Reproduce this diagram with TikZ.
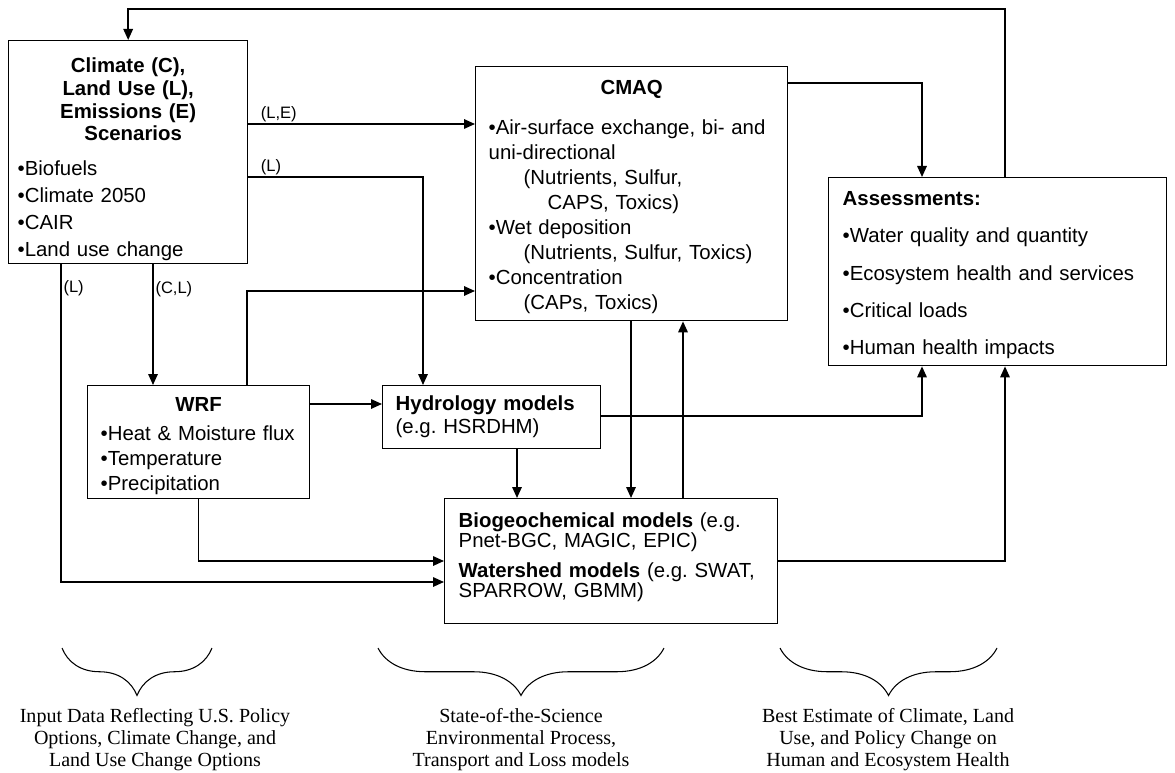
\documentclass[tikz,border=0pt]{standalone}
\usepackage{fontspec}
\setmainfont{Liberation Sans}
\newfontfamily\capfont{Liberation Serif}
\usetikzlibrary{arrows.meta,decorations.pathreplacing}
\frenchspacing

\begin{document}
\begin{tikzpicture}[x=0.02cm,y=-0.02cm,
    box/.style={draw,line width=0.8pt,anchor=north west,align=left,inner ysep=0pt},
    arr/.style={line width=0.9pt,-{Triangle[length=0.22cm,width=0.19cm]}},
    lab/.style={font=\fontsize{9.4}{11}\selectfont,inner sep=1pt},
    captext/.style={align=center,font=\capfont\fontsize{11.4}{12.5}\selectfont},
    curly/.style={decorate,decoration={brace,amplitude=0.95cm},line width=0.6pt}]
\useasboundingbox (0,0) rectangle (1175,773);

% models and scenarios
\node[box,inner xsep=0.18cm,text width=4.42cm,minimum height=4.46cm,
      font=\fontsize{11.6}{15.4}\selectfont] (scen) at (8,40)
  {{\centering\bfseries\fontsize{11.6}{12.9}\selectfont \rule{0pt}{16.5pt}Climate (C),\\ Land Use (L),\\
    Emissions (E)\\ \hspace*{0.2cm}Scenarios\par}\vspace{4pt}
   •Biofuels\\ •Climate 2050\\ •CAIR\\ •Land use change};
\node[box,inner xsep=0.26cm,text width=5.72cm,minimum height=5.08cm,
      font=\fontsize{11.6}{14.2}\selectfont] (cmaq) at (475,66)
  {{\centering\bfseries \rule{0pt}{11.8pt}CMAQ\par}\vspace{8.6pt}
   \mbox{•Air-surface exchange, bi- and}\\ uni-directional\\
   \hspace*{0.7cm}(Nutrients, Sulfur,\\ \hspace*{1.18cm}CAPS, Toxics)\\
   •Wet deposition\\ \hspace*{0.7cm}(Nutrients, Sulfur, Toxics)\\
   •Concentration\\ \hspace*{0.7cm}(CAPs, Toxics)};
\node[box,inner xsep=0.28cm,text width=6.2cm,minimum height=3.76cm,
      font=\fontsize{11.6}{21.1}\selectfont] (assess) at (828,177)
  {\rule{0pt}{11.9pt}\textbf{Assessments:}\\ •Water quality and quantity\\ •Ecosystem health and services\\
   •Critical loads\\ •Human health impacts};
\node[box,inner xsep=0.26cm,text width=3.92cm,minimum height=2.26cm,
      font=\fontsize{11.6}{14.2}\selectfont] (wrf) at (87,385)
  {{\centering\bfseries \rule{0pt}{12.3pt}WRF\par}\vspace{2.3pt}
   \mbox{•Heat \& Moisture flux}\\ •Temperature\\ •Precipitation};
\node[box,inner xsep=0.26cm,text width=3.84cm,minimum height=1.26cm,
      font=\fontsize{11.6}{13.1}\selectfont] (hydro) at (382,385)
  {\textbf{Hydrology models}\\ (e.g. HSRDHM)};
\node[box,inner xsep=0.28cm,text width=6.1cm,minimum height=2.5cm,
      font=\fontsize{11.6}{11.4}\selectfont] (bio) at (444,498)
  {\textbf{Biogeochemical models} (e.g.\\ Pnet-BGC, MAGIC, EPIC)\\[5.7pt]
   \mbox{\textbf{Watershed models} (e.g. SWAT,}\\ SPARROW, GBMM)\rule[-7pt]{0pt}{7pt}};

% connectors
\draw[arr] (cmaq.east |- 0,83) -| (922,0 |- assess.north);
\draw[arr] (1005,0 |- assess.north) -- (1005,9) -| (scen.north);
\draw[arr] (scen.east |- 0,124) -- (cmaq.west |- 0,124)
  node[lab,pos=0,above right,xshift=0.2cm] {(L,E)};
\draw[arr] (scen.east |- 0,177) -| (423,0 |- hydro.north)
  node[lab,pos=0,above right,xshift=0.2cm] {(L)};
\draw[arr] (153,0 |- scen.south) -- node[lab,right,pos=0.21] {(C,L)} (153,0 |- wrf.north);
\draw[arr] (61,0 |- scen.south) -- (61,582) node[lab,right,pos=0.075] {(L)}
  -- (bio.west |- 0,582);
\draw[arr] (247,0 |- wrf.north) |- (cmaq.west |- 0,291);
\draw[arr] (wrf.east |- 0,404) -- (hydro.west |- 0,404);
\draw[arr] (wrf.south) |- (bio.west |- 0,561);
\draw[arr] (517,0 |- hydro.south) -- (517,0 |- bio.north);
\draw[arr] (631,0 |- cmaq.south) -- (631,0 |- bio.north);
\draw[arr] (683,0 |- bio.north) -- (683,0 |- cmaq.south);
\draw[arr] (hydro.east |- 0,416) -| (922,0 |- assess.south);
\draw[arr] (bio.east |- 0,561) -| (1005,0 |- assess.south);

% braces and captions
\draw[curly] (212,648) -- (62,648);
\draw[curly] (664,648) -- (378,648);
\draw[curly] (997,648) -- (780,648);
\node[captext] (capin) at (155,740)
  {Input Data Reflecting U.S. Policy\\ Options, Climate Change, and\\ Land Use Change Options};
\node[captext] (capsci) at (521,740)
  {State-of-the-Science\\ Environmental Process,\\ Transport and Loss models};
\node[captext] (capest) at (888,740)
  {Best Estimate of Climate, Land\\ Use, and Policy Change on\\ Human and Ecosystem Health};
\end{tikzpicture}
\end{document}
